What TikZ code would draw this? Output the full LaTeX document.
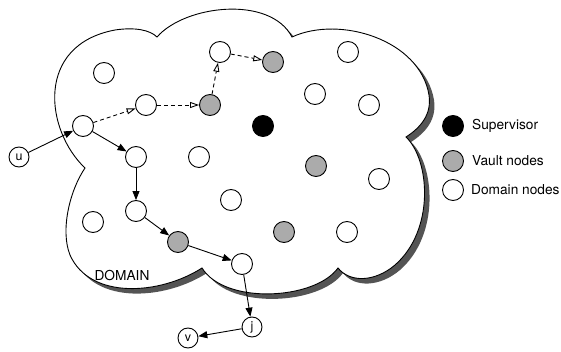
\documentclass[tikz,border=0pt]{standalone}
\usepackage{fontspec}
\setmainfont{TeX Gyre Heros}
\usetikzlibrary{arrows.meta}
\definecolor{vaultgray}{gray}{0.67}
\definecolor{shadowgray}{gray}{0.33}
\tikzset{
  nd/.style={circle,draw,line width=0.9pt,minimum size=21pt,inner sep=0pt,fill=white},
  vault/.style={nd,fill=vaultgray},
  sup/.style={nd,fill=black},
  lbl/.style={circle,draw,line width=0.9pt,minimum size=20pt,inner sep=0pt,fill=white,font=\fontsize{12.5}{14}\selectfont},
  txt/.style={font=\fontsize{13.7}{16}\selectfont,inner sep=0pt},
  solidarr/.style={line width=0.9pt,-{Triangle[length=9pt,width=7pt]}},
  dasharr/.style={line width=0.9pt,dashed,dash pattern=on 4pt off 3pt,-{Triangle[open,length=9pt,width=6pt]}},
}
\begin{document}
\begin{tikzpicture}[x=1pt,y=-1pt]
\useasboundingbox (0,0) rectangle (561,352);
\def\cloudpath{(85,168) .. controls (45,130) and (35,45) .. (115,30)
  .. controls (135,27) and (150,30) .. (157,37)
  .. controls (185,5) and (270,-5) .. (292,37)
  .. controls (340,15) and (420,40) .. (429,95)
  .. controls (432,115) and (420,128) .. (406,137)
  .. controls (430,160) and (435,230) .. (395,265)
  .. controls (375,282) and (350,283) .. (338,268)
  .. controls (315,300) and (225,305) .. (202,268)
  .. controls (160,295) and (90,300) .. (70,255)
  .. controls (60,230) and (70,190) .. (85,168) -- cycle}
\fill[shadowgray,shift={(5,5)}] \cloudpath;
\draw[fill=white,line width=0.9pt] \cloudpath;
\node[txt] (domain) at (122,276) {DOMAIN};
% nodes
\node[nd] (n1) at (104,73) {};
\node[nd] (n2) at (146,105) {};
\node[vault] (g1) at (210,105) {};
\node[nd] (n3) at (220,52) {};
\node[vault] (g2) at (273,62) {};
\node[nd] (n4) at (348,52) {};
\node[nd] (a) at (83,126) {};
\node[sup] (s) at (263,126) {};
\node[nd] (n5) at (315,94) {};
\node[nd] (n6) at (369,105) {};
\node[nd] (b) at (136,157) {};
\node[nd] (n7) at (199,157) {};
\node[vault] (g3) at (316,166) {};
\node[nd] (n8) at (379,179) {};
\node[nd] (n9) at (231,200) {};
\node[nd] (c) at (136,211) {};
\node[nd] (n10) at (93,222) {};
\node[vault] (g4) at (178,242) {};
\node[vault] (g5) at (284,232) {};
\node[nd] (n11) at (347,232) {};
\node[nd] (d) at (242,264) {};
\node[lbl] (u) at (19,157) {u};
\node[lbl] (j) at (252,327) {j};
\node[lbl] (v) at (188,338) {v};
% edges
\draw[solidarr] (u) -- (a);
\draw[solidarr] (a) -- (b);
\draw[solidarr] (b) -- (c);
\draw[solidarr] (c) -- (g4);
\draw[solidarr] (g4) -- (d);
\draw[solidarr] (d) -- (j);
\draw[solidarr] (j) -- (v);
\draw[dasharr] (a) -- (n2);
\draw[dasharr] (n2) -- (g1);
\draw[dasharr] (g1) -- (n3);
\draw[dasharr] (n3) -- (g2);
% legend
\node[sup] (ls) at (453,126) {};
\node[vault] (lv) at (453,161) {};
\node[nd] (ld) at (453,190) {};
\node[txt,anchor=west] (ts) at (472,126) {Supervisor};
\node[txt,anchor=west] (tv) at (472,161) {Vault nodes};
\node[txt,anchor=west] (td) at (471,190) {Domain nodes};
\end{tikzpicture}
\end{document}
